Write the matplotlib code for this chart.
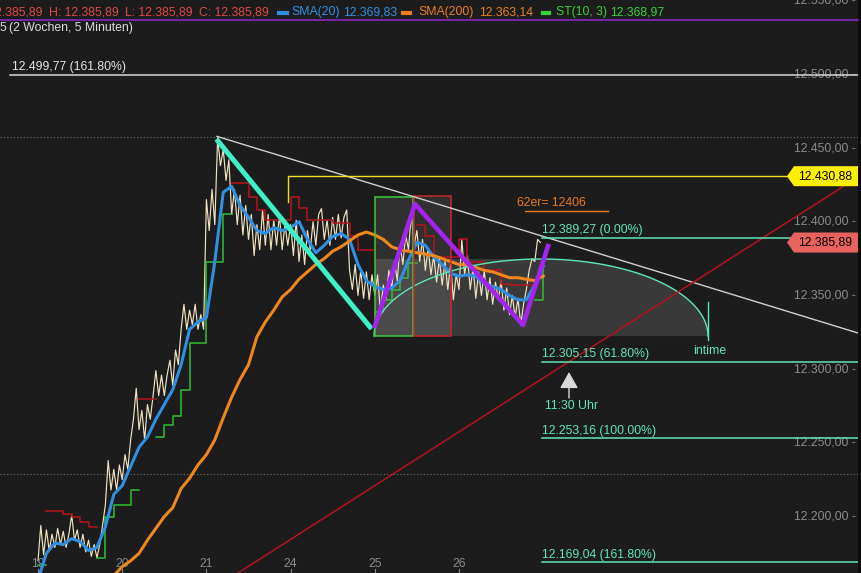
import numpy as np
import matplotlib.pyplot as plt
from matplotlib.patches import Polygon, Rectangle
from matplotlib.lines import Line2D
from matplotlib.transforms import blended_transform_factory

plt.rcParams['font.family'] = ['Liberation Sans', 'DejaVu Sans']
plt.rcParams['font.size'] = 8.8

## data (5-min closes, 30 samples per trading day)
day_labels = ['19', '20', '21', '24', '25', '26']

price_19 = [12170, 12194, 12174, 12191, 12177, 12188, 12179, 12192, 12181, 12190,
            12179, 12188, 12201, 12184, 12191, 12179, 12188, 12176, 12184, 12173,
            12181, 12172, 12181, 12194, 12208, 12238, 12218, 12232, 12218, 12235]
price_20 = [12225, 12242, 12232, 12252, 12266, 12287, 12259, 12272, 12252, 12276,
            12266, 12282, 12299, 12282, 12296, 12282, 12296, 12306, 12289, 12313,
            12303, 12327, 12344, 12327, 12340, 12330, 12344, 12327, 12337, 12327]
price_21 = [12415, 12394, 12422, 12398, 12457, 12438, 12449, 12428, 12442, 12405,
            12422, 12398, 12418, 12391, 12411, 12388, 12405, 12377, 12398, 12381,
            12408, 12384, 12405, 12381, 12401, 12384, 12405, 12381, 12398, 12384]
price_24 = [12398, 12377, 12401, 12373, 12391, 12371, 12394, 12381, 12400, 12384,
            12405, 12409, 12388, 12401, 12384, 12403, 12388, 12405, 12389, 12403,
            12408, 12367, 12354, 12371, 12350, 12367, 12348, 12366, 12347, 12364]
price_25 = [12350, 12364, 12339, 12357, 12347, 12367, 12354, 12373, 12360, 12384,
            12371, 12391, 12381, 12405, 12384, 12394, 12373, 12388, 12367, 12382,
            12364, 12377, 12359, 12375, 12357, 12373, 12354, 12371, 12347, 12364]
price_26 = [12354, 12388, 12364, 12377, 12354, 12369, 12348, 12366, 12350, 12367,
            12347, 12362, 12344, 12359, 12347, 12360, 12340, 12355, 12337, 12350,
            12335, 12348, 12330, 12344, 12354, 12367, 12375, 12373, 12388, 12385.89]

# indicators, 10 samples per day
sma20 = [12157, 12175, 12182, 12181, 12185, 12183, 12177, 12179, 12193, 12215,
         12221, 12234, 12247, 12254, 12266, 12276, 12286, 12303, 12327, 12332,
         12335, 12373, 12420, 12424, 12411, 12403, 12394, 12392, 12396, 12394,
         12396, 12400, 12388, 12379, 12384, 12390, 12392, 12388, 12371, 12360,
         12356, 12354, 12355, 12360, 12374, 12386, 12384, 12376, 12371, 12365,
         12363, 12364, 12363, 12358, 12356, 12354, 12350, 12347, 12347, 12357, 12369.83]
sma200 = [np.nan] * 9 + [
    12160, 12166, 12170, 12175, 12184, 12192, 12200, 12206, 12219, 12226,
    12235, 12242, 12252, 12267, 12281, 12293, 12303, 12322, 12332, 12340,
    12349, 12354, 12361, 12366, 12371, 12375, 12380, 12383, 12387, 12391,
    12393, 12391, 12388, 12383, 12381, 12380, 12379, 12378, 12377, 12375,
    12373, 12371, 12371, 12369, 12367, 12366, 12364, 12362, 12362, 12361,
    12360, 12363.14]
st_values = [12167, 12204, 12204, 12202, 12200, 12196, 12193, 12172, 12200, 12208,
             12208, 12218, 12280, 12280, 12254, 12262, 12268, 12286, 12318, 12318,
             12373, 12373, 12405, 12426, 12426, 12417, 12408, 12401, 12401, 12401,
             12417, 12409, 12401, 12401, 12401, 12399, 12399, 12390, 12381, 12381,
             12339, 12347, 12354, 12362, 12372, 12398, 12390, 12376, 12376, 12376,
             12388, 12373, 12373, 12367, 12367, 12358, 12357, 12357, 12357, 12347, 12368.97]
st_dir = [1, -1, -1, -1, -1, -1, -1, 1, 1, 1, 1, 1, -1, -1, 1, 1, 1, 1, 1, 1, 1, 1, 1] \
    + [-1] * 17 + [1] * 5 + [-1] * 14 + [1, 1]

# drawn levels
fib_levels = [12389.27, 12305.15, 12253.16, 12169.04]
fib_labels = ['12.389,27 (0.00%)', '12.305,15 (61.80%)', '12.253,16 (100.00%)', '12.169,04 (161.80%)']
ext_level, ext_label = 12499.77, '12.499,77 (161.80%)'
resist_level = 12430.88
last_price = 12385.89
dotted_levels = [12457.7, 12228.6]

header_ohlc = ['O: 12.385,89', 'H: 12.385,89', 'L: 12.385,89', 'C: 12.385,89']
header_ind = [('SMA(20)', '12.369,83', '#2f8fe0'),
              ('SMA(200)', '12.363,14', '#ea7f1e'),
              ('ST(10, 3)', '12.368,97', '#38d038')]

## layout
W, H = 861, 573
X0, DAY = 38, 84.2          # pixel of first day open, pixels per day
BG = '#1c1c1c'
MINT = '#5ee6b8'


def tx(px):
    return (px - X0) / DAY


def de(v):
    # german number format
    return f'{v:,.2f}'.replace(',', 'X').replace('.', ',').replace('X', '.')


fig = plt.figure(figsize=(W / 100, H / 100), dpi=100, facecolor=BG)
ax = fig.add_axes([0, 0, 858 / W, 1])
ax.set_axis_off()
ax.set_xlim(tx(0), tx(858))
ax.set_ylim(12161.7, 12550.4)
yax = blended_transform_factory(ax.transAxes, ax.transData)
xax = blended_transform_factory(ax.transData, ax.transAxes)

# y labels
for v in range(12550, 12199, -50):
    ax.text(856 / 858, v, de(v) + ' -', transform=yax, ha='right', va='center',
            color='#8a8a8a', zorder=0)

# x labels
for i, d in enumerate(day_labels):
    ax.text(i, 1 - 564 / H, d, transform=xax, ha='center', va='center', color='#8a8a8a')
    ax.plot([i, i], [0, 4 / H], transform=xax, color='#8a8a8a', lw=0.8)

for lv in dotted_levels:
    ax.axhline(lv, color='#707070', lw=0.8, ls=(0, (1, 2)), zorder=1)

# shaded zone (box + quarter ellipse) and arc
base, top = 12322.4, 12374.7
tc, a = tx(541), (708 - 541) / DAY
th = np.linspace(np.pi / 2, 0, 60)
zone = [(tx(375), base), (tx(375), top)] + list(zip(tc + a * np.cos(th), base + (top - base) * np.sin(th)))
ax.add_patch(Polygon(zone, closed=True, fc='white', alpha=0.13, ec='none', zorder=1))
th = np.linspace(np.pi, 0, 120)
ax.plot(tc + a * np.cos(th), base + (top - base) * np.sin(th), color=MINT, lw=1, zorder=4)
ax.plot([tx(708), tx(708)], [12345.5, 12319.7], color=MINT, lw=1, zorder=4)
ax.text(tx(710), 12312.5, 'intime', ha='center', va='center', color=MINT, zorder=6)

ax.add_patch(Rectangle((tx(375), base), tx(413) - tx(375), 12416.8 - base,
                       fc='white', alpha=0.09, ec='none', zorder=1))
ax.add_patch(Rectangle((tx(375), base), tx(413) - tx(375), 12416.8 - base,
                       fc='none', ec='#3cc83c', lw=1.1, zorder=4))
ax.add_patch(Rectangle((tx(414), base), tx(451) - tx(414), 12417.4 - base,
                       fc='white', alpha=0.09, ec='none', zorder=1))
ax.add_patch(Rectangle((tx(414), base), tx(451) - tx(414), 12417.4 - base,
                       fc='none', ec='#c8282c', lw=1.1, zorder=4))

## series
t_price = np.arange(180) / 30
price = np.array(price_19 + price_20 + price_21 + price_24 + price_25 + price_26)
t_ind = np.arange(61) / 10
st = np.array(st_values, dtype=float)
sd = np.array(st_dir)

ax.plot(t_price, price, color='#efe2c0', lw=0.85, zorder=2)
ax.plot(t_ind, np.where(sd == 1, st, np.nan), drawstyle='steps-post', color='#30c030', lw=1.1, zorder=2.5)
ax.plot(t_ind, np.where(sd == -1, st, np.nan), drawstyle='steps-post', color='#b8141c', lw=1.1, zorder=2.5)
ax.plot(t_ind, sma20, color='#2f8fe0', lw=2.2, zorder=3)
ax.plot(t_ind, sma200, color='#f0861e', lw=2.2, zorder=3)

## drawings
ax.plot([tx(217), tx(858)], [12457.9, 12324.5], color='#d0d0d0', lw=1, zorder=4)
ax.axline((tx(238), 12161.7), (tx(858), 12430.3), color='#b3121c', lw=1.1, zorder=4)
ax.plot([2.138, 3.943], [12454.7, 12328.6], color='#3ef0c6', lw=3.6, zorder=5)
ax.plot([4.002, 4.477, 5.760, 6.057], [12329.2, 12412.0, 12329.9, 12383.5],
        color='#a424ee', lw=3.3, zorder=5)

ax.plot([tx(288), tx(288), tx(858)], [12413.4, resist_level, resist_level], color='#f0e020', lw=1, zorder=4)
ax.plot([tx(10), tx(858)], [ext_level, ext_level], color='#d8d8d8', lw=1.1, zorder=4)
ax.annotate(ext_label, (tx(12), ext_level), xytext=(0, 1.5), textcoords='offset points',
            va='bottom', color='#e6e6e6', zorder=6)
for lv, lb in zip(fib_levels, fib_labels):
    ax.plot([tx(542), tx(858)], [lv, lv], color=MINT, lw=1.1, zorder=4)
    ax.annotate(lb, (tx(542), lv), xytext=(0, 1.2), textcoords='offset points',
                va='bottom', color=MINT, zorder=6)

ax.text(tx(517), 12412.7, '62er= 12406', va='center', color='#e87a20', zorder=6)
ax.plot([tx(525), tx(608)], [12407.3, 12407.3], color='#e87a20', lw=1, zorder=6)

ax.annotate('', xy=(tx(569), 12298.0), xytext=(tx(569), 12280.4),
            arrowprops=dict(arrowstyle='-|>,head_length=0.5,head_width=0.28', color='#d8d8d8',
                            lw=1, mutation_scale=20, shrinkA=0, shrinkB=0), zorder=6)
ax.text(tx(545), 12275.0, '11:30 Uhr', va='center', color=MINT, zorder=6)

# price tags on the right
for lv, fc in [(resist_level, '#fff000'), (last_price, '#e8625e')]:
    h = 10 * 0.6784
    pts = [(tx(787), lv), (tx(794), lv + h), (tx(858), lv + h), (tx(858), lv - h), (tx(794), lv - h)]
    ax.add_patch(Polygon(pts, closed=True, fc=fc, ec='none', zorder=7, clip_on=False))
    ax.text(tx(798), lv, de(lv), va='center', ha='left', color='black', zorder=8)

## header
def ftext(px, py, s, **kw):
    fig.text(px / W, 1 - py / H, s, va='center', **kw)


ftext(43, 12.5, header_ohlc[0], ha='right', color='#e04848')
for px, s in zip([49, 125, 199], header_ohlc[1:]):
    ftext(px, 12.5, s, color='#e04848')
for (name, val, col), (d0, d1, p1, p2) in zip(header_ind, [(279, 287, 291, 343), (403, 410, 418, 479),
                                                         (543, 549, 556, 610)]):
    fig.add_artist(Line2D([d0 / W, d1 / W], [1 - 13 / H] * 2, color=col, lw=3))
    ftext(p1, 12.5, name, color=col)
    ftext(p2, 12.5, val, color=col)
fig.add_artist(Line2D([0, 858 / W], [1 - 20 / H] * 2, color='#8428c0', lw=1.2))
ftext(0, 28, '5', color='#dcdcdc')
ftext(9, 28, '(2 Wochen, 5 Minuten)', color='#dcdcdc')
fig.add_artist(Rectangle((858 / W, 0), 3 / W, 1, transform=fig.transFigure, fc='#0c0c0c', ec='none'))

fig.savefig('out.png', dpi=100, facecolor=BG)
